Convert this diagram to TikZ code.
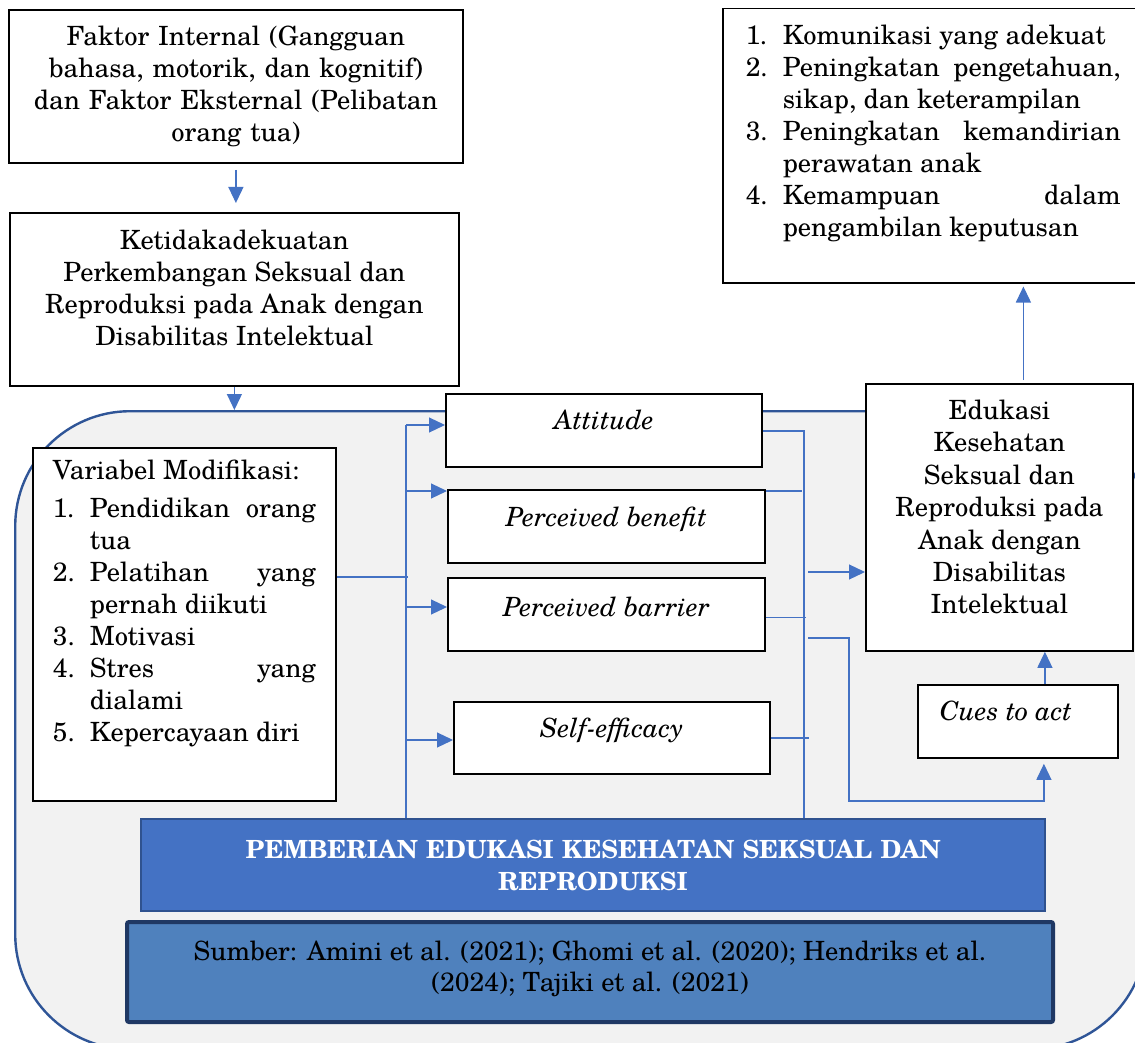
\documentclass[tikz,border=0pt]{standalone}
\usepackage{fontspec}
\setmainfont{texgyreschola}[Extension=.otf, UprightFont=*-regular, ItalicFont=*-italic, BoldFont=*-bold, BoldItalicFont=*-bolditalic]
\usetikzlibrary{arrows.meta, positioning, calc}
\definecolor{PaleGray}{HTML}{F2F2F2}
\definecolor{FrameBlue}{HTML}{2F5597}
\definecolor{LinkBlue}{HTML}{4472C4}
\definecolor{BarBlue}{HTML}{4472C4}
\definecolor{BarEdge}{HTML}{2F528F}
\definecolor{SteelBlue}{HTML}{4F81BD}
\definecolor{NavyEdge}{HTML}{1F3864}
\newcommand{\dgmfont}{\fontsize{26.5}{32}\selectfont\parindent=0pt}
\newcommand{\numline}[2]{\makebox[37pt][l]{#1}#2}
\newcommand{\contline}[1]{\hspace*{37pt}#1}
% text block of fixed height, set from the top with a gap
\newcommand{\boxtext}[4]{\parbox[c][#1][t]{#2}{\vspace*{#3}#4}}

\begin{document}
\begin{tikzpicture}[x=1pt, y=-1pt, font=\dgmfont,
    box/.style={draw=black, line width=1.8pt, fill=white, inner sep=0pt, anchor=north west},
    link/.style={LinkBlue, line width=1.2pt},
    arr/.style={link, -{Triangle[length=16pt, width=15pt]}}]
    \useasboundingbox (0,0) rectangle (1135,1043);

    \node (frame) [draw=FrameBlue, line width=2.4pt, fill=PaleGray, rounded corners=115pt, anchor=north west, minimum width=1131pt, minimum height=638pt, inner sep=0pt] at (14,410) {};

    \node (faktor) [box, minimum width=454pt, minimum height=153pt, text width=440pt, align=center] at (8,9) {Faktor Internal (Gangguan\\bahasa, motorik, dan kognitif)\\dan Faktor Eksternal (Pelibatan\\orang tua)};
    \node (ketidak) [box, minimum width=449pt, minimum height=173pt] at (9,212) {\boxtext{173pt}{440pt}{17.5pt}{\centering Ketidakadekuatan\\Perkembangan Seksual dan\\Reproduksi pada Anak dengan\\Disabilitas Intelektual}};
    \node (hasil) [box, line width=1.5pt, minimum height=274pt, inner xsep=23pt] at (722,8) {\boxtext{274pt}{375pt}{16.5pt}{\raggedright
        \numline{1.}{Komunikasi yang adekuat}\\
        \numline{2.}{Peningkatan \hfill pengetahuan,}\\
        \contline{sikap, dan keterampilan}\\
        \numline{3.}{Peningkatan \hfill kemandirian}\\
        \contline{perawatan anak}\\
        \numline{4.}{Kemampuan \hfill dalam}\\
        \contline{pengambilan keputusan}}};

    \node (modif) [box, minimum height=353pt, inner xsep=20pt] at (32,447) {\boxtext{353pt}{263pt}{12pt}{\raggedright
        Variabel Modifikasi:\\[6pt]
        \numline{1.}{Pendidikan \hfill orang}\\
        \contline{tua}\\
        \numline{2.}{Pelatihan \hfill yang}\\
        \contline{pernah diikuti}\\
        \numline{3.}{Motivasi}\\
        \numline{4.}{Stres \hfill yang}\\
        \contline{dialami}\\
        \numline{5.}{Kepercayaan diri}}};

    \node (att) [box, minimum width=316pt, minimum height=73pt, font=\dgmfont\itshape, text depth=22pt] at (445,393) {Attitude};
    \node (pben) [box, minimum width=317pt, minimum height=73pt, font=\dgmfont\itshape, text depth=19pt] at (447,489) {Perceived benefit};
    \node (pbar) [box, minimum width=317pt, minimum height=73pt, font=\dgmfont\itshape, text depth=16pt] at (447,577) {Perceived barrier};
    \node (self) [box, minimum width=316pt, minimum height=72pt, font=\dgmfont\itshape, text depth=20pt] at (453,701) {Self-efficacy};

    \node (edu) [box, minimum width=267pt, minimum height=267pt] at (865,383) {\boxtext{267pt}{250pt}{16pt}{\centering\baselineskip=32.4pt Edukasi\\Kesehatan\\Seksual dan\\Reproduksi pada\\Anak dengan\\Disabilitas\\Intelektual}};
    \node (cues) [box, minimum width=200pt, minimum height=73pt, font=\dgmfont\itshape, text depth=21pt] at (917,684) {Cues to act\rule{24pt}{0pt}};

    \node (pem) [box, draw=BarEdge, fill=BarBlue, line width=2pt, minimum width=904pt, minimum height=92pt, text width=880pt, align=center, text=white, font=\fontsize{25}{32}\selectfont\bfseries] at (140,818) {PEMBERIAN EDUKASI KESEHATAN SEKSUAL DAN\\REPRODUKSI};
    \node (src) [box, draw=NavyEdge, fill=SteelBlue, line width=4pt, rounded corners=2pt, minimum width=926pt, minimum height=100pt, font=\fontsize{26.5}{31}\selectfont] at (125,920) {\boxtext{100pt}{900pt}{19pt}{\centering Sumber: Amini et al. (2021); Ghomi et al. (2020); Hendriks et al.\\(2024); Tajiki et al. (2021)}};

    % arrows down the left column
    \draw[arr, shorten <=6pt, shorten >=9pt] (faktor.south) -- (faktor.south |- ketidak.north);
    \draw[arr] (ketidak.south) -- (ketidak.south |- frame.north);

    % left bus
    \coordinate (busA) at (406,425);
    \coordinate (busB) at (406,491);
    \coordinate (busC) at (406,607);
    \coordinate (busD) at (406,740);
    \coordinate (busM) at (408,577);
    \draw[link] (busA) -- (busA |- pem.north);
    \draw[link] (busM -| modif.east) -- (busM);
    \foreach \src/\dst in {busA/att, busB/pben, busC/pbar, busD/self}
        \draw[arr] (\src) -- (\src -| \dst.west);

    % right rail
    \coordinate (rail) at (804,431);
    \coordinate (railC) at (808,572);
    \coordinate (railD) at (808,638);
    \coordinate (bend) at (849,801);
    \draw[link] (att.east |- rail) -- (rail) -- (rail |- pem.north);
    \draw[link] ([yshift=-2pt]pben.north east) -- ++(36,0);
    \draw[link] ([yshift=-3pt]pbar.east) -- ++(40,0);
    \draw[link] (self.east) -- ++(38,0);
    \draw[arr] (railC) -- (railC -| edu.west);
    \draw[arr, shorten >=5pt] (railD) -| (bend) -| ([xshift=26pt]cues.south);
    \draw[arr] ([xshift=27pt]cues.north) -- ([xshift=27pt]cues.north |- edu.south);
    \draw[arr, shorten <=3pt, shorten >=3pt] ([xshift=24pt]edu.north) -- ([xshift=24pt]edu.north |- hasil.south);
\end{tikzpicture}
\end{document}
